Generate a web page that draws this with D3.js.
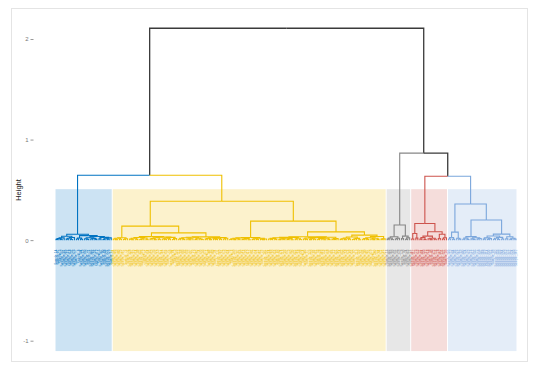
<!DOCTYPE html>
<html><head><meta charset="utf-8">
<script src="https://cdn.jsdelivr.net/npm/d3@7"></script>
<style>body{margin:0;background:#fff;}svg{display:block;}</style>
</head><body>
<svg id="chart" width="550" height="368"></svg>
<script>
// ---- data ----
const clusterSizes  = [28, 134, 12, 18, 34];
const clusterColors = ["#0073C2", "#EFC000", "#868686", "#CD534C", "#7AA6DC"];
// heights where neighbouring clusters join (blue|yellow, yellow|gray, gray|red, red|lightblue)
const betweenHeights = [0.645, 2.107, 0.865, 0.635];
// merge heights between adjacent leaves inside each cluster (leaf order)
const blueGaps = [0.008,0.015,0.006,0.022,0.038,0.010,0.018,0.007,0.026,0.058,0.012,0.020,0.009,0.045,0.014,0.006,0.024,0.011,0.017,0.008,0.036,0.013,0.027,0.007,0.019,0.010,0.022];
const yellowGaps = [
  0.012,0.005,0.019,0.009,0.024,0.007,0.014,
  0.139,
  0.010,0.004,0.018,0.008,0.026,0.006,0.013,0.021,0.009,0.035,0.011,0.016,0.005,0.023,0.008,0.030,0.012,0.007,0.019,0.010,0.027,0.006,0.015,
  0.072,
  0.009,0.017,0.006,0.024,0.011,0.004,0.014,0.029,0.008,0.019,0.012,0.006,0.032,0.010,0.016,0.005,0.022,0.013,0.007,0.020,0.009,0.025,0.011,0.018,
  0.387,
  0.007,0.013,0.005,0.018,0.009,0.022,0.006,0.011,0.015,0.004,0.026,0.008,0.014,0.006,0.019,0.010,0.005,0.012,
  0.189,
  0.011,0.006,0.017,0.008,0.023,0.005,0.013,0.009,0.020,0.007,0.015,0.004,0.027,0.010,0.018,0.006,0.033,0.012,0.008,0.021,0.005,0.014,0.009,0.025,0.007,0.016,0.011,0.004,0.019,0.008,0.028,0.010,0.006,0.015,
  0.082,
  0.008,0.014,0.005,0.020,0.010,0.031,0.006,0.012,0.017,0.004,0.050,0.009,0.015,0.007,0.024,0.011,0.005,0.018,0.008,0.036,0.010,0.013
];
const grayGaps = [0.010,0.020,0.006,0.033,0.012,0.018,0.150,0.015,0.040,0.008,0.022];
const redGaps = [0.012,0.066,0.020,0.165,0.010,0.025,0.007,0.040,0.014,0.005,0.019,0.009,0.083,0.016,0.058,0.011,0.024];
const lightBlueGaps = [0.012,0.025,0.008,0.080,0.018,0.010,0.360,
  0.009,0.020,0.006,0.035,0.013,0.007,0.024,0.011,0.016,0.200,
  0.010,0.022,0.007,0.015,0.041,0.009,0.018,0.006,0.027,0.012,0.060,0.014,0.033,0.008,0.019,0.011];
const leafIds = ("14 87 3 152 41 209 66 118 25 173 97 8 134 59 190 22 71 145 206 36 " +
  "112 5 167 80 48 221 129 17 94 183 53 140 29 201 76 11 158 107 63 214 " +
  "38 125 186 2 91 164 45 219 70 132 19 177 104 57 196 31 148 84 9 223 " +
  "115 68 160 42 192 27 137 99 13 205 74 170 50 122 1 188 85 143 34 211 " +
  "109 61 179 23 154 96 6 199 127 47 166 82 216 39 119 15 141 72 194 55 " +
  "101 26 181 131 64 208 10 156 89 43 174 116 32 197 79 149 20 225 106 58 " +
  "138 4 185 67 123 210 46 161 93 28 203 113 75 168 37 146 12 191 100 54 " +
  "222 130 18 176 83 155 49 213 110 65 136 30 187 95 159 7 200 121 44 171 " +
  "81 217 16 142 103 60 195 35 128 178 90 24 163 51 207 117 73 153 21 184 " +
  "139 62 218 98 40 172 126 78 202 111 157 33 189 52 144 86 226 105 69 180 " +
  "124 92 162 56 215 135 77 198 147 108 169 114 220 151 88 182 133 193 204 120 " +
  "212 175 165 224 150 102").split(" ");
const yTicks = [-1, 0, 1, 2];
const rectTop = 0.507, rectBottom = -1.103;
const yLabel = "Height";

// ---- assemble ----
const gaps = [].concat(blueGaps, [betweenHeights[0]], yellowGaps, [betweenHeights[1]],
  grayGaps, [betweenHeights[2]], redGaps, [betweenHeights[3]], lightBlueGaps);
const N = d3.sum(clusterSizes);
const starts = [];
{ let s = 1; clusterSizes.forEach(n => { starts.push(s); s += n; }); }
const clusterOf = i => { let c = 0; for (let k = 0; k < starts.length; k++) if (i >= starts[k]) c = k; return c; };

function build(lo, hi) {
  if (lo === hi) return { leaf: lo, label: "Sample_" + leafIds[lo - 1] };
  let k = lo;
  for (let j = lo; j < hi; j++) if (gaps[j - 1] > gaps[k - 1]) k = j;
  return { height: gaps[k - 1], children: [build(lo, k), build(k + 1, hi)] };
}
const root = d3.hierarchy(build(1, N));

const x = d3.scaleLinear().domain([0.5, N + 0.5]).range([55, 517]);
const y = d3.scaleLinear().domain([-1, 2]).range([340.7, 39]);

root.eachAfter(d => {
  if (!d.children) { d.px = x(d.data.leaf); d.h = 0; d.cl = clusterOf(d.data.leaf); }
  else {
    d.px = (d.children[0].px + d.children[1].px) / 2;
    d.h = d.data.height;
    d.cl = d.children[0].cl === d.children[1].cl ? d.children[0].cl : -1;
  }
});

const svg = d3.select("#chart");
svg.append("rect").attr("x", 11.5).attr("y", 8.5).attr("width", 516).attr("height", 353)
  .attr("fill", "#fff").attr("stroke", "#e4e4e4").attr("stroke-width", 1);

// cluster rectangles
svg.append("g").selectAll("rect").data(clusterSizes).join("rect")
  .attr("x", (n, i) => x(starts[i] - 0.5) + 0.5)
  .attr("width", (n, i) => x(starts[i] + n - 0.5) - x(starts[i] - 0.5) - 1)
  .attr("y", y(rectTop))
  .attr("height", y(rectBottom) - y(rectTop))
  .attr("fill", (n, i) => clusterColors[i])
  .attr("fill-opacity", 0.2);

// branches
svg.append("g").attr("fill", "none").selectAll("path")
  .data(root.descendants().filter(d => d.parent))
  .join("path")
  .attr("d", d => `M${d.parent.px},${y(d.parent.h)}H${d.px}V${y(d.h)}`)
  .attr("stroke", d => d.cl >= 0 ? clusterColors[d.cl] : "#3a3a3a")
  .attr("stroke-width", d => d.cl >= 0 ? 1.1 : 1.3);

// leaf labels
svg.append("g").selectAll("text").data(root.leaves()).join("text")
  .attr("transform", d => `translate(${d.px},${y(0) + 9.5}) rotate(-90)`)
  .attr("text-anchor", "end")
  .attr("dominant-baseline", "central")
  .attr("font-family", "Liberation Sans, Arial, sans-serif")
  .attr("font-size", 3)
  .attr("fill", d => clusterColors[d.cl])
  .text(d => d.data.label);

// y axis
const ax = svg.append("g").attr("transform", "translate(33.5,0)")
  .call(d3.axisLeft(y).tickValues(yTicks).tickSize(3).tickPadding(2).tickFormat(d => String(d)));
ax.select(".domain").remove();
ax.selectAll(".tick line").attr("stroke", "#999");
ax.selectAll(".tick text").attr("fill", "#777").attr("font-size", 6)
  .attr("font-family", "Liberation Sans, Arial, sans-serif");

svg.append("text").attr("transform", "translate(20.5,190) rotate(-90)")
  .attr("text-anchor", "middle").attr("font-size", 7.5)
  .attr("font-family", "Liberation Sans, Arial, sans-serif").attr("fill", "#222")
  .text(yLabel);
</script>
</body></html>
